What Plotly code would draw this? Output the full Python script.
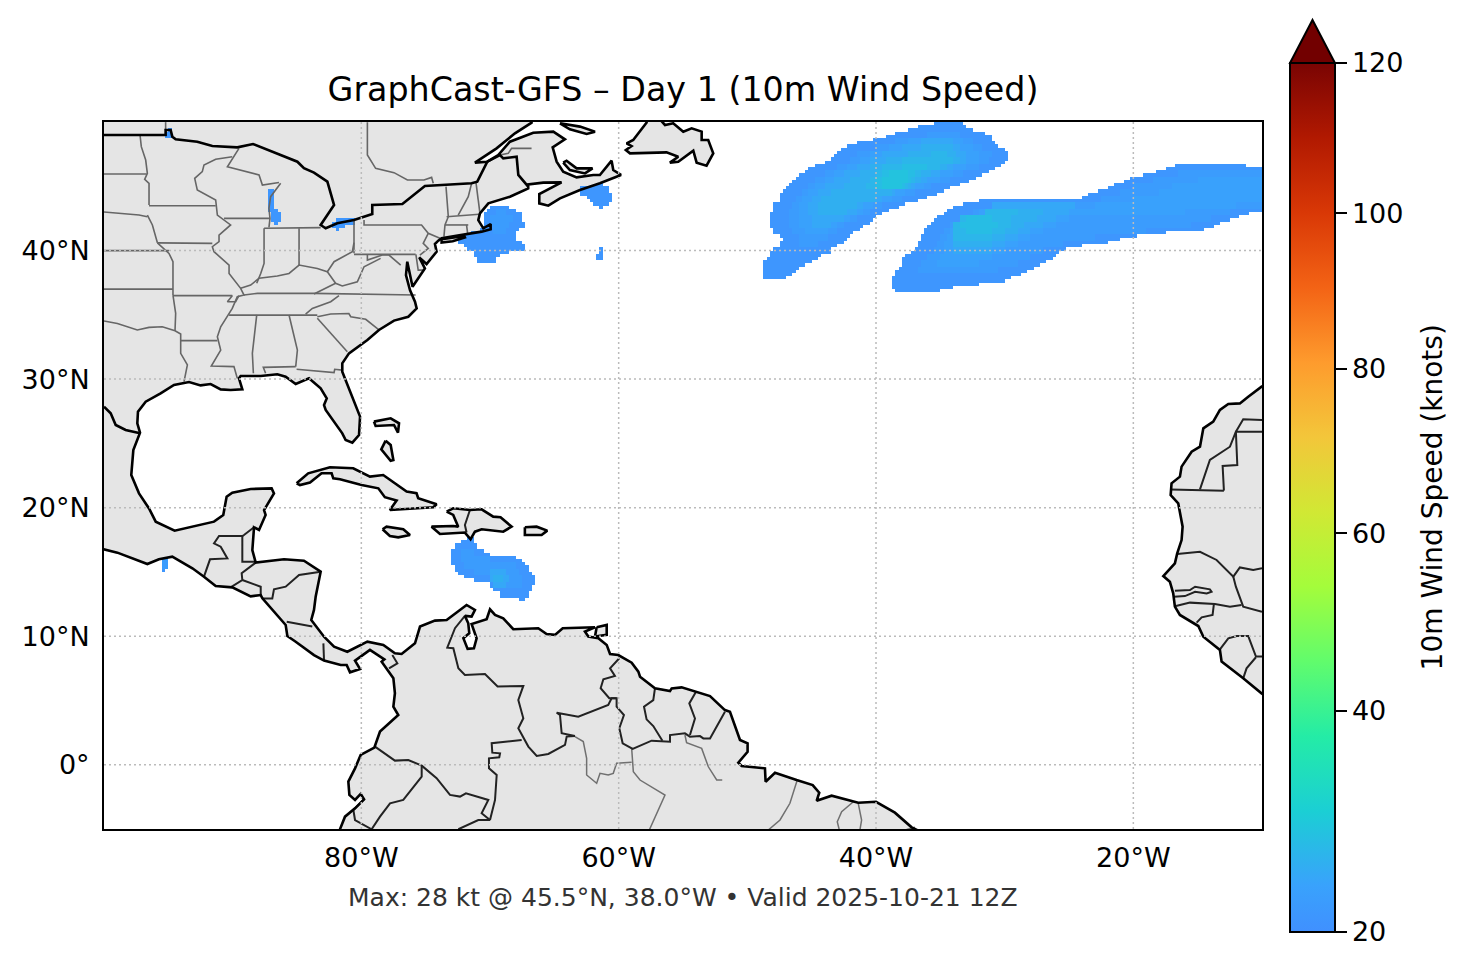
import numpy as np
import plotly.graph_objects as go

# colour norm of the bar (power norm between 20 and 120 kt)
speed_min = 20
speed_max = 120
gamma = 0.85
bar_ticks = [20, 40, 60, 80, 100, 120]
lon_ticks = [-80, -60, -40, -20]
lat_ticks = [0, 10, 20, 30, 40]
lon_labels = ["80°W", "60°W", "40°W", "20°W"]
lat_labels = ["0°", "10°N", "20°N", "30°N", "40°N"]

turbo_pos = [0.17, 0.2143, 0.2857, 0.3571, 0.4286, 0.5, 0.5714, 0.6429, 0.7143, 0.7857, 0.8571, 0.9286, 1.0]
turbo_hex = ["#4090ff", "#39a2fc", "#1bcfd4", "#24eca6", "#61fc6c", "#a4fc3b", "#d1e834", "#f3c63a",
             "#fe9b2d", "#f36315", "#d93806", "#b11901", "#7a0403"]

# land outlines, lon/lat
america = [(-101, 51), (-66.7, 51), (-66.77, 49.95), (-68.06, 49.12), (-69.49, 47.95), (-71.17, 46.84), (-70.21, 46.91),
    (-69.36, 47.43), (-68.45, 48.47), (-66.64, 49.17), (-65.08, 49.25), (-64.18, 48.65), (-65.13, 48.03), (-64.82, 46.91),
    (-64.31, 46.14), (-63.27, 45.69), (-61.97, 45.88), (-61.46, 45.88), (-60.55, 46.99), (-60.42, 46.26), (-59.82, 45.88),
    (-61.46, 45.23), (-63.01, 44.71), (-64.56, 44.06), (-65.47, 43.49), (-66.17, 43.67), (-66.17, 44.40), (-64.44, 45.30),
    (-65.86, 45.28), (-67.03, 45.15), (-67.03, 44.84), (-68.45, 44.19), (-70.13, 43.67), (-70.78, 42.89), (-70.91, 42.37),
    (-70.52, 41.73), (-69.95, 42.06), (-69.95, 41.65), (-70.65, 41.47), (-72.08, 41.21), (-73.76, 40.95), (-74.02, 40.77),
    (-74.28, 40.51), (-74.15, 39.91), (-74.93, 38.95), (-75.50, 39.47), (-75.06, 38.61), (-76.02, 37.19), (-76.43, 39.13),
    (-76.53, 38.09), (-76.22, 36.93), (-75.83, 36.02), (-75.70, 35.50), (-76.35, 34.85), (-77.46, 34.55), (-78.63, 33.82),
    (-79.53, 33.04), (-80.96, 32.0), (-81.48, 31.23), (-81.48, 30.58), (-80.83, 28.89), (-80.10, 27.08), (-80.18, 25.65),
    (-80.70, 25.05), (-81.22, 25.26), (-81.48, 25.78), (-82.77, 27.6), (-82.90, 27.98), (-82.69, 28.5), (-83.16, 29.28),
    (-84.07, 30.06), (-85.1, 29.62), (-85.88, 30.19), (-86.53, 30.37), (-87.82, 30.24), (-89.38, 30.24), (-89.51, 30.06),
    (-89.25, 29.2), (-90.16, 29.15), (-90.93, 29.2), (-91.71, 29.62), (-92.49, 29.51), (-93.39, 29.77), (-94.56, 29.54),
    (-95.6, 28.89), (-96.76, 28.24), (-97.36, 27.46), (-97.41, 26.56), (-97.2, 25.83), (-97.72, 24.48), (-97.88, 22.54),
    (-97.28, 21.11), (-96.5, 19.94), (-95.98, 18.91), (-94.51, 18.21), (-91.45, 18.91), (-90.73, 19.43), (-90.47, 20.85),
    (-90.03, 21.16), (-88.6, 21.45), (-86.97, 21.5), (-86.79, 21.11), (-87.56, 19.81), (-87.44, 19.43), (-87.95, 18.26),
    (-88.34, 18.47), (-88.47, 16.7), (-88.21, 15.72), (-86.01, 15.98), (-84.46, 15.87), (-83.16, 15.02), (-83.55, 13.07),
    (-83.68, 12.04), (-83.89, 11.26), (-82.9, 9.96), (-82.12, 9.18), (-81.09, 8.79), (-79.53, 9.57), (-78.29, 9.32),
    (-77.39, 8.67), (-76.87, 8.62), (-75.83, 9.45), (-75.44, 10.75), (-74.28, 11.21), (-73.37, 11.26), (-71.82, 12.43),
    (-71.17, 12.04), (-71.43, 11.52), (-71.95, 11.58), (-71.69, 11.0), (-71.61, 10.23), (-72.07, 9.84), (-71.74, 9.01),
    (-71.25, 9.06), (-71.04, 9.84), (-71.43, 10.95), (-70.26, 11.32), (-70.0, 12.09), (-69.61, 11.65), (-68.97, 11.39),
    (-68.19, 10.54), (-66.25, 10.62), (-65.6, 10.17), (-64.95, 10.1), (-64.35, 10.62), (-61.84, 10.69), (-62.62, 10.36),
    (-62.36, 9.97), (-61.58, 9.84), (-60.93, 9.32), (-60.67, 8.61), (-60.03, 8.53), (-58.99, 7.94), (-58.47, 7.24),
    (-58.34, 6.85), (-57.18, 5.94), (-56.01, 5.73), (-55.88, 5.94), (-55.11, 6.02), (-53.94, 5.68), (-52.9, 5.34),
    (-51.74, 4.25), (-51.35, 4.12), (-50.57, 1.92), (-49.98, 1.66), (-49.98, 1.01), (-50.7, 0.16), (-50.44, -0.1),
    (-48.63, -0.28), (-48.58, -1.32), (-47.85, -0.62), (-46.17, -1.19), (-44.92, -1.58), (-44.41, -2.18), (-44.61, -2.8),
    (-43.45, -2.41), (-41.38, -2.96), (-40.0, -2.88), (-38.53, -3.73), (-37.23, -4.87), (-36.71, -5.13), (-36.5, -6),
    (-81.8, -6), (-81.66, -5.02), (-81.27, -4.04), (-80.49, -3.39), (-79.79, -2.69), (-80.05, -2.27), (-80.49, -2.74),
    (-80.93, -2.35), (-81.01, -1.31), (-80.49, -0.28), (-80.05, 0.76), (-78.99, 1.33), (-78.55, 2.58), (-77.13, 3.87),
    (-77.51, 4.52), (-77.39, 5.56), (-77.51, 6.73), (-78.42, 8.02), (-78.21, 8.2), (-79.33, 8.93), (-80.49, 8.1),
    (-80.1, 7.45), (-80.88, 7.19), (-81.14, 7.76), (-81.6, 7.76), (-82.9, 8.1), (-83.68, 8.53), (-85.1, 9.57),
    (-85.75, 10.01), (-85.88, 10.87), (-87.69, 12.94), (-87.82, 13.2), (-88.6, 13.1), (-90.03, 13.8), (-91.32, 13.9),
    (-92.23, 14.63), (-93.13, 15.28), (-94.69, 16.19), (-95.73, 15.98), (-96.63, 15.61), (-98.96, 16.5), (-100, 16.76),
    (-101, 16.5), (-101, 51)]
africa = [(-9, 30), (-10.03, 29.41), (-11.07, 28.63), (-11.72, 28.11), (-12.62, 28.06), (-13.27, 27.6), (-13.79, 26.69),
    (-14.56, 26.17), (-14.82, 24.74), (-15.47, 24.35), (-16.25, 23.19), (-16.38, 22.41), (-17.03, 21.89), (-17.1, 20.98),
    (-16.51, 20.33), (-16.17, 18.52), (-16.25, 17.48), (-16.59, 16.44), (-16.77, 15.67), (-17.67, 14.68), (-17.16, 14.24),
    (-16.9, 13.33), (-16.77, 12.3), (-16.38, 11.65), (-14.95, 10.79), (-14.56, 9.96), (-13.27, 8.92), (-13.14, 8.02),
    (-11.46, 6.72), (-10.03, 5.55), (-9, 4.8), (-9, 30)]
cuba = [(-85.03, 21.89), (-84.13, 22.67), (-82.44, 23.14), (-80.63, 23.06), (-79.33, 22.41), (-78.3, 22.54), (-76.48, 21.25),
    (-75.71, 21.12), (-75.58, 20.73), (-74.15, 20.26), (-74.41, 20.03), (-77.78, 19.82), (-77.26, 20.55), (-78.17, 20.81),
    (-78.68, 21.5), (-79.98, 21.76), (-81.66, 22.21), (-82.18, 22.28), (-82.31, 22.67), (-83.09, 22.67), (-83.99, 21.95),
    (-84.77, 21.76), (-85.03, 21.89)]
jamaica = [(-78.35, 18.32), (-78.04, 18.52), (-76.74, 18.32), (-76.22, 17.87), (-77.13, 17.69), (-77.78, 17.8), (-78.35, 18.32)]
hispaniola = [(-73.37, 19.69), (-72.86, 19.95), (-71.56, 19.82), (-70.65, 19.87), (-69.75, 19.3), (-69.18, 19.25), (-68.32, 18.52),
    (-68.97, 18.13), (-70.65, 18.32), (-71.17, 18.13), (-71.51, 17.54), (-71.95, 18.06), (-73.89, 17.95), (-74.54, 18.52),
    (-72.86, 18.57), (-72.47, 18.52), (-72.86, 19.43), (-73.37, 19.69)]
puerto_rico = [(-67.29, 18.47), (-66.38, 18.52), (-65.55, 18.21), (-65.99, 17.87), (-67.29, 17.87), (-67.29, 18.47)]
bahamas_a = [(-79.02, 26.69), (-77.72, 26.95), (-77.07, 26.56), (-77.15, 25.83), (-77.46, 26.43), (-78.89, 26.35), (-79.02, 26.69)]
bahamas_b = [(-78.11, 25.21), (-78.45, 24.53), (-77.72, 23.65), (-77.51, 23.7), (-77.72, 24.87), (-78.11, 25.21)]
long_island = [(-73.76, 40.88), (-72.0, 41.13), (-71.95, 41.02), (-72.9, 40.72), (-73.76, 40.62), (-73.76, 40.88)]
pei = [(-64.31, 46.84), (-64.05, 46.99), (-63.27, 46.39), (-62.03, 46.39), (-62.62, 46.0), (-63.79, 46.26), (-64.31, 46.84)]
anticosti = [(-64.56, 49.9), (-63.01, 49.64), (-61.84, 49.25), (-62.49, 49.07), (-63.79, 49.43), (-64.56, 49.9)]
newfoundland = [(-57.83, 50.2), (-57.83, 49.95), (-58.87, 48.6), (-59.38, 48.34), (-59.0, 48.13), (-59.44, 47.82), (-59.12, 47.56),
    (-56.28, 47.64), (-55.37, 47.3), (-56.02, 46.84), (-55.37, 46.91), (-54.2, 47.77), (-53.94, 46.84), (-53.17, 46.6),
    (-52.65, 47.56), (-53.04, 48.6), (-53.55, 48.6), (-53.55, 49.25), (-54.33, 49.51), (-54.98, 49.25), (-55.76, 49.9),
    (-56.4, 49.77), (-56.79, 50.2), (-57.83, 50.2)]
trinidad = [(-61.71, 10.69), (-60.93, 10.87), (-60.93, 10.1), (-61.84, 9.97), (-61.71, 10.69)]
land_shapes = [america, africa, cuba, jamaica, hispaniola, puerto_rico, bahamas_a, bahamas_b, long_island, pei, anticosti,
               newfoundland, trinidad]

# thick border between the US and Canada, and the Rio Grande
us_canada = [[(-100, 48.99), (-95.21, 48.99), (-95.21, 49.38), (-94.82, 49.38), (-94.69, 48.86), (-94.43, 48.65), (-92.75, 48.47),
    (-91.58, 48.13), (-89.64, 48.03), (-88.42, 48.29), (-84.97, 46.91), (-84.46, 46.4), (-83.68, 46.06), (-82.64, 45.36),
    (-82.12, 43.54), (-83.16, 41.99), (-82.77, 41.73), (-81.87, 42.12), (-80.57, 42.38), (-79.15, 42.84), (-79.15, 43.54),
    (-76.81, 43.62), (-75.06, 45.02), (-71.43, 45.23), (-70.99, 45.36), (-70.21, 46.91), (-69.23, 47.43), (-68.97, 47.17),
    (-67.93, 47.3), (-67.8, 45.88), (-67.03, 44.97)],
    [(-100, 27.85), (-99.48, 27.34), (-99.09, 26.43), (-98.32, 26.04), (-97.2, 25.78)]]

country_lines = [
    [(-92.23, 14.63), (-91.76, 15.98), (-90.41, 16.05), (-90.93, 16.96), (-91.45, 17.22), (-91.06, 17.79), (-89.25, 17.79), (-89.25, 15.8), (-88.21, 15.8)],
    [(-89.25, 17.79), (-89.12, 17.87), (-88.34, 18.47)],
    [(-88.21, 15.72), (-89.3, 14.89), (-89.25, 14.37), (-90.16, 13.8)],
    [(-89.25, 14.37), (-87.82, 13.85), (-87.82, 13.2)],
    [(-83.16, 15.02), (-84.84, 14.76), (-85.88, 13.85), (-86.79, 13.64), (-86.92, 12.94), (-87.69, 12.94)],
    [(-85.8, 11.13), (-83.81, 10.75)],
    [(-82.95, 9.44), (-82.9, 8.15)],
    [(-77.59, 8.53), (-77.2, 7.89), (-77.85, 7.49)],
    [(-71.95, 11.58), (-72.72, 10.62), (-73.32, 9.11), (-72.85, 9.06), (-72.46, 7.5), (-71.95, 6.98), (-70.39, 7.06), (-69.41, 6.08),
     (-67.41, 6.13), (-67.8, 5.04), (-67.41, 3.61), (-67.8, 2.84), (-67.02, 1.41), (-66.37, 0.68), (-65.47, 0.84), (-64.17, 1.54),
     (-64.04, 2.19), (-63.4, 2.24), (-64.43, 2.45), (-64.56, 3.87), (-64.82, 4.05), (-63.14, 3.74), (-60.81, 4.65), (-60.55, 5.17), (-60.16, 5.17)],
    [(-59.95, 8.28), (-60.67, 7.5), (-60.29, 6.91), (-61.19, 6.65), (-61.4, 5.95), (-60.73, 5.17), (-60.16, 5.17), (-60.16, 4.52),
     (-59.59, 3.87), (-59.95, 2.84), (-59.69, 1.67), (-58.91, 1.23), (-57.44, 1.87), (-56.01, 1.79), (-56.01, 2.31), (-54.85, 2.44),
     (-54.46, 2.18), (-53.68, 2.23), (-53.42, 2.05), (-52.9, 2.05), (-51.74, 4.12)],
    [(-57.18, 5.94), (-57.31, 5.03), (-58.03, 4.51), (-57.83, 3.53), (-57.31, 3.01), (-56.6, 1.87)],
    [(-53.99, 5.68), (-54.51, 4.77), (-54.07, 3.6), (-54.46, 2.31)],
    [(-67.54, 1.93), (-69.87, 1.67), (-69.82, 0.94), (-69.22, 0.89), (-69.28, 0.58), (-70.08, 0.5), (-70.08, -0.28), (-69.48, -0.8), (-69.61, -2.74), (-70.0, -4.3)],
    [(-78.94, 1.41), (-77.64, 0.5), (-77.39, 0.32), (-76.35, 0.37), (-75.31, -0.07), (-75.31, -0.93), (-76.74, -2.74), (-77.77, -3.0),
     (-78.55, -4.04), (-79.2, -5.02), (-80.49, -4.3), (-80.62, -3.52), (-79.79, -2.69)],
    [(-75.31, -0.07), (-74.15, -1.05), (-73.11, -2.35), (-72.33, -2.48), (-71.87, -2.22), (-70.13, -2.74), (-70.65, -3.78), (-70.0, -4.3), (-70.91, -4.3), (-72.46, -5.02)],
    [(-71.56, 19.82), (-71.95, 18.65), (-71.82, 18.06)],
    [(-17.1, 21.42), (-12.96, 21.32)],
    [(-14.82, 21.42), (-14.05, 23.71), (-12.49, 24.74), (-12.03, 25.91), (-10, 25.91)],
    [(-12.03, 25.91), (-11.92, 23.32), (-13.06, 23.24), (-12.96, 21.32)],
    [(-12.03, 25.91), (-11.46, 26.87), (-10, 26.82)],
    [(-16.59, 16.39), (-14.82, 16.57), (-13.53, 15.93), (-12.23, 14.63), (-11.72, 15.35), (-10.68, 15.15), (-10, 15.28)],
    [(-12.23, 14.63), (-12.03, 13.85), (-11.46, 12.3), (-10, 11.9)],
    [(-16.77, 13.54), (-15.6, 13.59), (-15.2, 13.85), (-14.05, 13.64), (-13.92, 13.46), (-14.3, 13.33), (-15.2, 13.46), (-15.99, 13.12), (-16.84, 13.07)],
    [(-16.69, 12.35), (-15.6, 12.61), (-13.66, 12.5), (-12.49, 12.3), (-11.59, 12.42)],
    [(-13.74, 12.5), (-13.84, 11.65), (-14.69, 11.47), (-15.08, 11.05)],
    [(-13.27, 8.98), (-12.62, 9.83), (-11.97, 10.01), (-11.07, 10.01), (-10.47, 8.41), (-10, 8.41)],
    [(-10.47, 8.36), (-11.2, 7.5), (-11.46, 6.72)],
]

state_lines = [
    [(-95.21, 49.99), (-95.21, 49.38)],
    [(-79.53, 49.99), (-79.53, 47.43), (-78.89, 46.39), (-77.46, 46.06), (-76.42, 45.49), (-75.13, 45.49), (-74.54, 45.69), (-74.41, 45.23)],
    [(-69.23, 47.43), (-68.58, 47.56), (-68.32, 47.95), (-66.77, 47.95)],
    [(-100, 45.95), (-96.68, 45.95)],
    [(-97.2, 48.99), (-97.1, 48.08), (-96.76, 47.04), (-96.63, 46.0), (-96.84, 45.54), (-96.5, 45.22), (-96.5, 43.54)],
    [(-100, 43.0), (-98.45, 42.89), (-97.28, 42.76), (-96.63, 42.63)],
    [(-96.5, 43.49), (-91.32, 43.49)],
    [(-96.63, 42.76), (-96.24, 41.99), (-95.85, 40.6)],
    [(-100, 39.99), (-94.95, 39.99)],
    [(-95.85, 40.6), (-91.58, 40.56)],
    [(-95.85, 40.6), (-94.95, 39.78), (-94.64, 39.13), (-94.64, 36.54)],
    [(-100, 37.0), (-94.64, 37.0)],
    [(-94.64, 36.49), (-90.03, 36.49), (-90.41, 36.02), (-89.77, 36.02), (-89.51, 36.49)],
    [(-94.64, 36.54), (-94.43, 35.11), (-94.48, 33.76)],
    [(-100, 34.52), (-98.96, 34.33), (-97.41, 33.82), (-96.5, 34.02), (-95.47, 34.07), (-94.48, 33.76), (-94.04, 33.51), (-94.04, 32.0), (-93.52, 31.1), (-93.78, 29.8)],
    [(-94.04, 32.99), (-91.19, 32.99)],
    [(-90.03, 47.3), (-91.32, 47.1), (-92.23, 46.65), (-92.36, 46.14), (-92.95, 45.62), (-92.75, 44.71), (-91.32, 43.93), (-91.19, 42.76),
     (-90.16, 41.99), (-91.06, 41.2), (-91.06, 40.69), (-91.58, 40.3), (-91.45, 39.91), (-90.28, 38.87), (-90.28, 38.22), (-89.38, 37.06),
     (-89.12, 36.54), (-89.64, 36.41), (-90.03, 35.5), (-90.93, 34.07), (-91.19, 33.3), (-90.93, 32.26), (-91.66, 31.02), (-89.9, 30.97), (-89.64, 30.06)],
    [(-90.67, 42.5), (-87.1, 42.5)],
    [(-89.51, 47.95), (-90.41, 46.52), (-87.95, 45.88), (-87.69, 45.1), (-86.4, 45.3)],
    [(-86.27, 45.23), (-87.05, 44.19), (-87.18, 43.28), (-87.1, 42.5), (-87.18, 41.8)],
    [(-87.56, 41.73), (-87.56, 39.0), (-87.82, 38.22), (-88.13, 37.45)],
    [(-87.56, 41.73), (-83.16, 41.78)],
    [(-84.84, 41.73), (-84.84, 38.87)],
    [(-89.38, 37.06), (-88.6, 37.32), (-87.95, 37.84), (-86.53, 38.02), (-85.62, 38.22), (-84.84, 38.87), (-83.42, 38.6), (-82.64, 38.35), (-82.12, 39.13), (-80.7, 39.91), (-80.57, 40.61)],
    [(-80.57, 42.38), (-80.57, 39.78)],
    [(-80.57, 39.7), (-75.78, 39.7)],
    [(-79.79, 42.38), (-79.79, 41.99), (-75.32, 41.99), (-74.8, 41.34), (-73.89, 40.95)],
    [(-79.53, 39.7), (-79.53, 39.26), (-78.37, 39.65), (-77.85, 39.65), (-76.94, 38.87)],
    [(-82.64, 38.35), (-82.0, 37.45), (-81.48, 37.24), (-80.31, 37.57), (-79.79, 38.74), (-78.5, 39.39)],
    [(-82.0, 37.45), (-83.68, 36.62)],
    [(-89.12, 36.54), (-88.08, 36.67), (-83.68, 36.67), (-75.78, 36.54)],
    [(-81.74, 36.49), (-82.38, 36.02), (-83.81, 35.5), (-84.33, 35.06)],
    [(-90.28, 34.98), (-83.42, 34.98)],
    [(-83.42, 34.85), (-82.38, 35.06), (-80.97, 35.1), (-80.82, 34.85), (-79.66, 34.65), (-78.63, 33.82)],
    [(-83.42, 34.73), (-81.09, 32.13)],
    [(-88.13, 34.99), (-88.47, 32.0), (-88.39, 30.45)],
    [(-85.62, 34.99), (-84.97, 32.26), (-85.1, 30.97)],
    [(-87.44, 30.45), (-87.62, 30.91), (-85.1, 30.97)],
    [(-85.03, 30.76), (-82.12, 30.5), (-82.07, 30.76), (-81.48, 30.7)],
    [(-73.42, 44.97), (-73.24, 42.63), (-73.5, 41.99), (-73.58, 41.08)],
    [(-71.43, 45.23), (-71.69, 44.19), (-72.47, 42.76)],
    [(-71.09, 45.28), (-70.78, 42.89)],
    [(-73.37, 42.63), (-70.83, 42.82)],
    [(-73.5, 41.99), (-71.69, 41.99)],
    [(-71.82, 41.99), (-71.74, 41.34)],
    [(-74.8, 41.34), (-75.19, 40.56), (-74.8, 40.17), (-75.45, 39.65)],
    [(-75.76, 39.7), (-75.58, 38.48), (-75.06, 38.48)],
]

brazil_lines = [
    [(-58.99, 1.27), (-58.86, -0.54), (-58.34, -1.19), (-56.4, -2.36), (-57.62, -5.08)],
    [(-63.4, 2.19), (-62.75, 1.8), (-62.49, 0.5), (-62.49, -0.8), (-61.71, -1.44), (-61.45, -0.67), (-60.81, -0.8), (-60.42, -0.67), (-60.16, 0.11), (-58.99, 0.19)],
    [(-54.85, 2.31), (-54.72, 1.71), (-53.55, 1.27), (-53.03, -0.16), (-52.38, -1.19), (-51.95, -1.19)],
    [(-46.12, -1.19), (-46.69, -3.0), (-47.46, -4.3), (-48.37, -5.08)],
    [(-41.76, -2.88), (-42.67, -3.66), (-43.01, -4.44), (-42.85, -5.08)],
    [(-41.38, -3.0), (-41.12, -4.3), (-41.25, -5.08)],
    [(-37.62, -5.03), (-36.97, -4.87)],
]

# wind field: (lat, west, east) rows at the edge of each patch, then stronger core rows
wind_edge_speed = 20.8
north_patch = [(49.75, -35.5, -33.25), (49.5, -36.75, -33), (49.25, -37.5, -32.5), (49, -38.5, -31.5), (48.75, -39.25, -31),
    (48.5, -40.25, -31), (48.25, -41.5, -30.75), (48, -42.25, -30.5), (47.75, -42.75, -30), (47.5, -43, -29.75),
    (47.25, -43.25, -29.75), (47, -43.5, -30), (46.75, -44, -30.25), (46.5, -44.75, -30.75), (46.25, -45.25, -31.25),
    (46, -45.5, -31.75), (45.75, -46, -32.25), (45.5, -46.25, -32.75), (45.25, -46.5, -33.5), (45, -46.75, -34.25),
    (44.75, -47, -34.75), (44.5, -47.25, -35.25), (44.25, -47.5, -36), (44, -47.5, -36.75), (43.75, -47.5, -37.75),
    (43.5, -48, -38.25), (43.25, -48, -39), (43, -48, -39.5), (42.75, -48.25, -40), (42.5, -48.25, -40.25),
    (42.25, -48.25, -40.5), (42, -48.25, -41), (41.75, -48, -41.25), (41.5, -48, -41.75), (41.25, -47.5, -42),
    (41, -47.25, -42.25), (40.75, -47.25, -42.5), (40.5, -47.5, -43), (40.25, -47.5, -43.5), (40, -48, -43.5),
    (39.75, -48.25, -44.25), (39.5, -48.25, -44.5), (39.25, -48.5, -45), (39, -48.75, -45.5), (38.75, -48.75, -46),
    (38.5, -48.75, -46.25), (38.25, -48.75, -46.5), (38, -48.75, -47)]
south_patch = [(46.5, -16.75, -11.25), (46.25, -17.5, -10), (46, -18.25, -10), (45.75, -19.25, -10), (45.5, -20.25, -10),
    (45.25, -20.75, -10), (45, -21.5, -10), (44.75, -22, -10), (44.5, -22.75, -10), (44.25, -23.5, -10), (44, -24, -10),
    (43.75, -32, -10), (43.5, -33.25, -10), (43.25, -34, -10), (43, -34.5, -11), (42.75, -34.75, -11.75),
    (42.5, -35.25, -12.5), (42.25, -35.5, -13.25), (42, -35.75, -13.75), (41.75, -36, -14.5), (41.5, -36.25, -17.5),
    (41.25, -36.25, -19.75), (41, -36.5, -21), (40.75, -36.5, -22), (40.5, -36.75, -24), (40.25, -36.75, -25.25),
    (40, -37, -25.75), (39.75, -37.25, -26), (39.5, -37.75, -26.25), (39.25, -38, -26.75), (39, -38, -27.25),
    (38.75, -38, -27.75), (38.5, -38.25, -28.25), (38.25, -38.5, -28.75), (38, -38.5, -29.5), (37.75, -38.75, -30),
    (37.5, -38.75, -32), (37.25, -38.75, -34), (37, -38.5, -35)]
maine_patch = [(43.25, -70, -68.5), (43, -70.25, -68), (42.75, -70.5, -67.5), (42.5, -70.5, -67.5), (42.25, -70.5, -67.5),
    (42, -70.5, -67.25), (41.75, -70, -67.75), (41.5, -70.75, -68), (41.25, -71.5, -68), (41, -72, -68), (40.75, -72.5, -68),
    (40.5, -72, -67.5), (40.25, -71.75, -67.25), (40, -71.25, -68.5), (39.75, -71.25, -69.25), (39.5, -71, -69.5), (39.25, -71, -69.5)]
scotia_patch = [(45, -61.75, -61.25), (44.75, -63, -60.75), (44.5, -63, -60.75), (44.25, -62.5, -60.5), (44, -62.25, -60.5),
    (43.75, -62, -60.75), (43.5, -61.5, -61.25), (40, -61.5, -61.25), (39.75, -61.5, -61.25), (39.5, -61.75, -61.25)]
lakes_patch = [(44.5, -87.25, -86.75), (44.25, -87.25, -86.75), (44, -87.25, -86.75), (43.75, -87.25, -86.75), (43.5, -87.25, -86.75),
    (43.25, -87.25, -86.75), (43, -87, -86.5), (42.75, -87, -86.25), (42.5, -87, -86.25), (42.25, -86.75, -86.5),
    (42.25, -82, -80.5), (42, -82.25, -81.25), (41.75, -82, -81.75), (49.25, -95, -94.75), (49, -95.25, -94.75)]
tehuantepec_patch = [(15.75, -95.5, -95), (15.5, -95.5, -95), (15.25, -95.5, -95.25)]
carib_patch = [(17.5, -71.75, -71.25), (17.25, -72.25, -71.25), (17, -72.75, -71), (16.75, -72.75, -71), (16.5, -73, -70.5),
    (16.25, -73, -70), (16, -73, -68), (15.75, -73, -67.5), (15.5, -72.75, -67.25), (15.25, -72.75, -67), (15, -72.5, -67),
    (14.75, -72, -66.75), (14.5, -71.25, -66.5), (14.25, -70, -66.5), (14, -70, -66.75), (13.75, -69.75, -66.75),
    (13.5, -69.25, -67), (13.25, -69.25, -67), (13, -67.75, -67.25)]
wind_patches = [north_patch, south_patch, maine_patch, scotia_patch, lakes_patch, tehuantepec_patch, carib_patch]

# stronger parts: speed, then half degree rows
wind_cores = [
    (22, [(49, -36, -33.5), (48.5, -38.5, -32.5), (48, -40, -31.75), (47.5, -41.5, -31), (47, -42, -31.25), (46.5, -43, -32),
          (46, -44, -33.25), (45.5, -44.75, -34.25), (45, -45.25, -35.75), (44.5, -45.75, -37), (44, -46.25, -38), (43.5, -46.5, -39.5),
          (43, -46.75, -40.5), (42.5, -46.75, -41.5), (42, -46.75, -42.5), (41.5, -46.5, -43), (41, -46, -43.75), (40.5, -46, -44.5),
          (46, -16.5, -10), (45.5, -18.5, -10), (45, -20, -10), (44.5, -21, -10), (44, -22.5, -10), (43.5, -30, -10), (43, -32.5, -12.5),
          (42.5, -33.5, -14), (42, -34.25, -15.5), (41.5, -34.75, -19), (41, -35, -23), (40.5, -35.25, -25.5), (40, -35.5, -27),
          (39.5, -36, -28), (39, -36.5, -29), (38.5, -36.75, -30.5),
          (43, -69.5, -68.75), (42.5, -70, -68.25), (42, -70, -68.5), (41.5, -69.75, -68.75),
          (15.75, -95.5, -95), (15.5, -95.5, -95), (16.5, -72.25, -71.25), (16, -72.25, -70), (15.5, -72, -68), (15, -71.25, -67.75),
          (14.5, -70, -67.5), (14, -69.25, -67.5)]),
    (23, [(45.5, -15, -10), (45, -17, -10), (44.5, -18, -10), (44, -20, -10), (43.5, -23, -12), (43, -25, -16),
          (48.5, -37.5, -33.25), (48, -39, -32.5), (47.5, -40.5, -32), (47, -41.25, -32), (46.5, -42.25, -33), (46, -43.25, -34),
          (45.5, -44, -35), (45, -44.75, -36.25), (44.5, -45.25, -37.75), (44, -45.75, -38.75), (43.5, -46, -40.25), (43, -46, -41),
          (42.5, -46, -42), (42, -46, -43), (41.5, -45.5, -43.75),
          (43, -32, -25), (42.5, -33, -25), (42, -33.75, -26), (41.5, -34.25, -27), (41, -34.5, -28), (40.5, -34.75, -29),
          (40, -34.75, -30), (39.5, -35, -31), (39, -35.25, -32)]),
    (24, [(48.5, -36.5, -34), (48, -38, -33.5), (47.5, -39.5, -33), (47, -40.5, -33), (46.5, -41.5, -34), (46, -42.5, -35),
          (45.5, -43.25, -36), (45, -44, -37), (44.5, -44.5, -38.5), (44, -45, -39.5), (43.5, -45.25, -41), (43, -45.25, -41.5),
          (42.5, -45, -42.5), (42, -45, -43.5),
          (43.5, -31, -24.5), (43, -31.5, -25), (42.5, -32.5, -26), (42, -33.25, -27), (41.5, -33.75, -28), (41, -34, -29),
          (40.5, -34, -30), (40, -34, -31), (15, -70, -68.75), (14.5, -70, -68.5), (14, -69.75, -68.75)]),
    (25, [(48, -36.5, -34), (47.5, -37.5, -33.75), (47, -39.25, -33.5), (46.5, -40.5, -34.5), (46, -41.25, -35.75), (45.5, -42, -36.5),
          (45, -42.5, -37.25), (44.5, -43.5, -38.75), (44, -44.25, -40), (43.5, -44.5, -41.5), (43, -44.5, -42.25),
          (43, -31.5, -27), (42.5, -33, -27.5), (42, -33.5, -28.5), (41.5, -33.75, -29), (41, -34, -30), (40.5, -34, -31),
          (14.5, -69.75, -69)]),
    (26, [(47.5, -35.75, -34.5), (47, -38, -34), (46.5, -39.5, -35), (46, -40, -36.5), (45.5, -40.5, -37), (45, -40.75, -37.5),
          (43, -31.5, -29), (42.5, -33.5, -29.5), (42, -34, -29.5), (41.5, -34, -30), (41, -34, -31)]),
    (27, [(46.5, -38, -36), (46, -39.5, -37), (45.5, -40, -37.25), (45, -40, -37.75),
          (42.5, -33, -31), (42, -33.5, -30.5), (41.5, -33, -31)]),
    (28, [(46, -39, -37.5), (45.5, -39.5, -37.5), (45, -39.5, -38)]),
]


def norm(speed):
    return ((np.asarray(speed, dtype=float) - speed_min) / (speed_max - speed_min)) ** gamma


def split(pairs):
    lons, lats = [], []
    for line in pairs:
        lons += [p[0] for p in line] + [None]
        lats += [p[1] for p in line] + [None]
    return lons, lats


grid_lon = np.arange(-99.875, -10, 0.25)
grid_lat = np.arange(-4.875, 50, 0.25)
speed = np.full((len(grid_lat), len(grid_lon)), np.nan)
for patch in wind_patches:
    for lat, west, east in patch:
        row = np.abs(grid_lat - lat) <= 0.13
        speed[np.ix_(row, (grid_lon > west) & (grid_lon < east))] = wind_edge_speed
for value, rows in wind_cores:
    for lat, west, east in rows:
        row = np.abs(grid_lat - lat) <= 0.25
        col = (grid_lon > west) & (grid_lon < east)
        block = speed[np.ix_(row, col)]
        block[~np.isnan(block)] = value
        speed[np.ix_(row, col)] = block

colorscale = [[(p - turbo_pos[0]) / (1 - turbo_pos[0]), c] for p, c in zip(turbo_pos, turbo_hex)]

fig = go.Figure()
# land as shapes under the traces, a scatter fill would hide the heatmap
for shape in land_shapes:
    path = "M " + " L ".join(f"{lon} {lat}" for lon, lat in shape) + " Z"
    fig.add_shape(type="path", xref="x", yref="y", path=path, fillcolor="#e5e5e5", line=dict(width=0), layer="below")

fig.add_trace(go.Heatmap(x=grid_lon, y=grid_lat, z=norm(speed), zmin=0, zmax=1, colorscale=colorscale, hoverongaps=False,
                         colorbar=dict(x=1.0242, xanchor="left", xpad=0, y=0.469, yanchor="middle", ypad=0, lenmode="pixels", len=869,
                                       thicknessmode="pixels", thickness=45, outlinecolor="black", outlinewidth=2,
                                       ticks="outside", ticklen=11, tickwidth=2, tickcolor="black",
                                       tickvals=norm(bar_ticks).tolist(), ticktext=[str(t) for t in bar_ticks],
                                       tickfont=dict(size=27, color="black"))))

lons, lats = split(brazil_lines)
fig.add_trace(go.Scatter(x=lons, y=lats, mode="lines", line=dict(color="#707070", width=1.5), hoverinfo="skip"))
lons, lats = split(state_lines)
fig.add_trace(go.Scatter(x=lons, y=lats, mode="lines", line=dict(color="#666666", width=1.6), hoverinfo="skip"))
lons, lats = split(country_lines)
fig.add_trace(go.Scatter(x=lons, y=lats, mode="lines", line=dict(color="#222222", width=2), hoverinfo="skip"))
lons, lats = split(land_shapes + us_canada)
fig.add_trace(go.Scatter(x=lons, y=lats, mode="lines", line=dict(color="black", width=2.6), hoverinfo="skip"))

grid_x, grid_y = [], []
for lon in lon_ticks:
    grid_x += [lon, lon, None]
    grid_y += [-5, 50, None]
for lat in lat_ticks:
    grid_x += [-100, -10, None]
    grid_y += [lat, lat, None]
fig.add_trace(go.Scatter(x=grid_x, y=grid_y, mode="lines", line=dict(color="#bbbbbb", width=1.5, dash="2px,3px"), hoverinfo="skip"))

# extend triangle on top of the colour bar
fig.add_shape(type="path", xref="paper", yref="paper", path="M 1.0242 1.0834 L 1.0436 1.1443 L 1.0630 1.0834 Z",
              fillcolor="#720000", line=dict(color="black", width=2))

fig.add_annotation(text="10m Wind Speed (knots)", xref="paper", yref="paper", x=1.1468, y=0.469, textangle=-90,
                   showarrow=False, xanchor="center", yanchor="middle", font=dict(size=28, color="black"))
fig.add_annotation(text="Max: 28 kt @ 45.5°N, 38.0°W • Valid 2025-10-21 12Z", xref="paper", yref="paper", x=0.5, y=-0.0962,
                   showarrow=False, yanchor="middle", font=dict(size=25, color="#333333"))

fig.update_layout(
    width=1466, height=969, autosize=False, margin=dict(l=104, r=204, t=122, b=140),
    paper_bgcolor="white", plot_bgcolor="white", showlegend=False,
    font=dict(family="DejaVu Sans", color="black"),
    title=dict(text="GraphCast-GFS – Day 1 (10m Wind Speed)", x=0.4659, xanchor="center", y=0.908, yanchor="middle", font=dict(size=33.3, color="black")),
    xaxis=dict(range=[-100, -10], showgrid=False, zeroline=False, showline=True, mirror=True, linecolor="black", linewidth=2,
               tickvals=lon_ticks, ticktext=lon_labels, ticks="", tickfont=dict(size=27, color="black"), ticklabelstandoff=4),
    yaxis=dict(range=[-5, 50], showgrid=False, zeroline=False, showline=True, mirror=True, linecolor="black", linewidth=2,
               tickvals=lat_ticks, ticktext=lat_labels, ticks="", tickfont=dict(size=27, color="black"), ticklabelstandoff=7),
)
fig.write_html("out.html", config={"displayModeBar": False}, post_script="document.body.style.margin='0';")
